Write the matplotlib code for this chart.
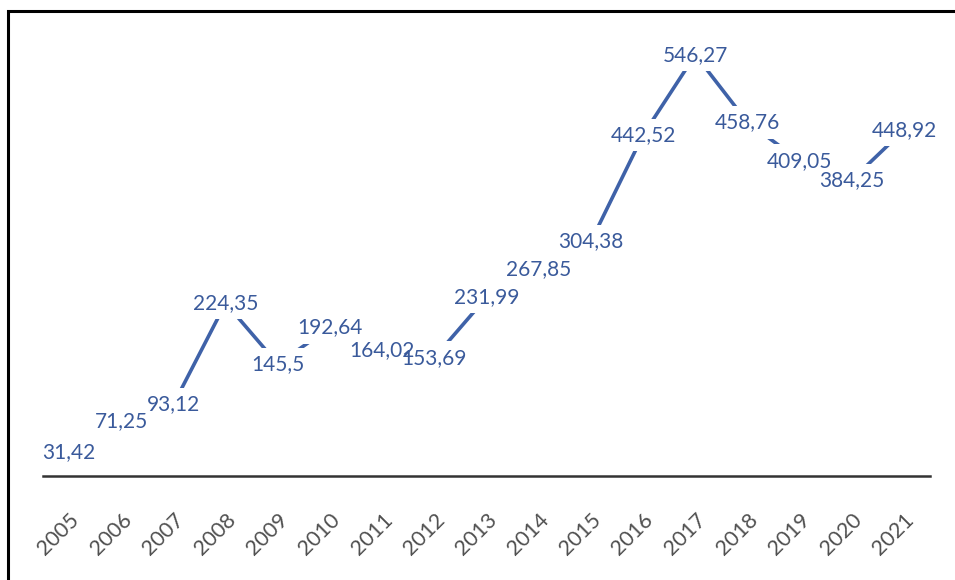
import matplotlib
matplotlib.use('Agg')
import matplotlib.pyplot as plt
from matplotlib.patches import Rectangle

anios = ['2005', '2006', '2007', '2008', '2009', '2010', '2011', '2012', '2013',
         '2014', '2015', '2016', '2017', '2018', '2019', '2020', '2021']
valores = [31.42, 71.25, 93.12, 224.35, 145.5, 192.64, 164.02, 153.69, 231.99,
           267.85, 304.38, 442.52, 546.27, 458.76, 409.05, 384.25, 448.92]
etiquetas = ['31,42', '71,25', '93,12', '224,35', '145,5', '192,64', '164,02', '153,69', '231,99',
             '267,85', '304,38', '442,52', '546,27', '458,76', '409,05', '384,25', '448,92']

plt.rcParams['font.family'] = ['Lato', 'DejaVu Sans']

azul_linea = '#3F62A8'
azul_texto = '#3A5A9B'

fig = plt.figure(figsize=(9.55, 5.8), dpi=100)
ax = fig.add_axes([0.045, 0.179, 0.929, 0.798])

x = list(range(len(anios)))
ax.plot(x, valores, color=azul_linea, linewidth=2.6, zorder=2)

# primero los huecos blancos, luego el texto encima
for xi, v, t in zip(x, valores, etiquetas):
    ax.text(xi, v, t, ha='center', va='center', fontsize=15, color='white', zorder=3,
            bbox=dict(boxstyle='square,pad=0.3', facecolor='white', edgecolor='none'))
for xi, v, t in zip(x, valores, etiquetas):
    ax.text(xi, v, t, ha='center', va='center', fontsize=15, color=azul_texto, zorder=4)

ax.set_xlim(-0.5, len(anios) - 0.5)
ax.set_ylim(0, 600)
ax.set_xticks(x)
ax.set_xticklabels(anios, rotation=45, ha='right', rotation_mode='anchor',
                   fontsize=15.5, color='#505050')
ax.tick_params(axis='x', length=0, pad=24)
ax.set_yticks([])
for lado in ['top', 'right', 'left']:
    ax.spines[lado].set_visible(False)
ax.spines['bottom'].set_linewidth(1.8)
ax.spines['bottom'].set_color('#333333')

# marco exterior (solo bordes superior e izquierdo visibles)
fig.patches.append(Rectangle((0.008, -0.1), 1.2, 1.081, transform=fig.transFigure,
                             fill=False, edgecolor='black', linewidth=2.2))

plt.savefig('out.png', dpi=100)
plt.close()
